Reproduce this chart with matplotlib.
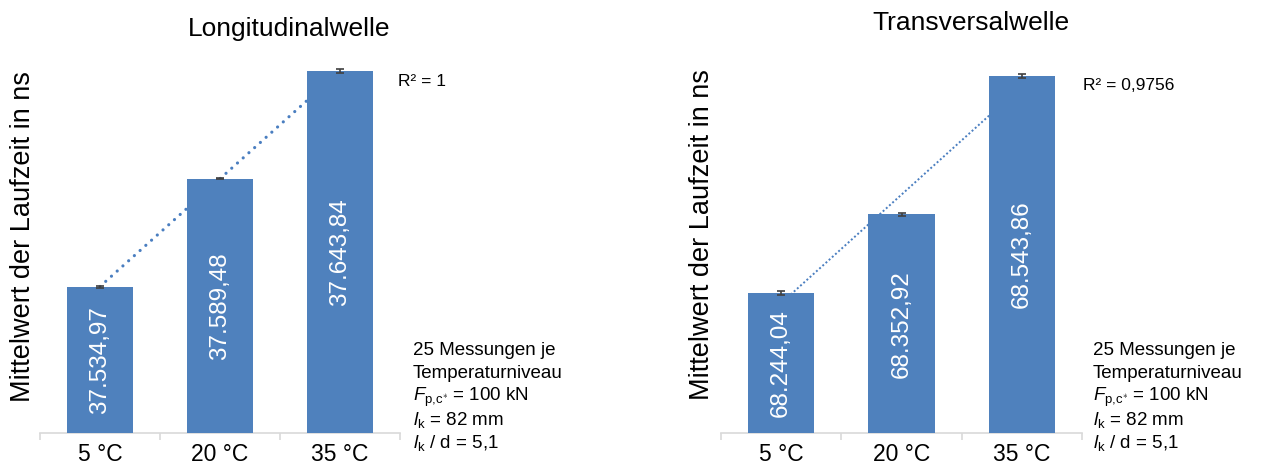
import numpy as np
import matplotlib
matplotlib.use("Agg")
import matplotlib.pyplot as plt

plt.rcParams["font.family"] = ["Liberation Sans", "DejaVu Sans"]
plt.rcParams["mathtext.fontset"] = "custom"
plt.rcParams["mathtext.rm"] = "Liberation Sans"
plt.rcParams["mathtext.it"] = "Liberation Sans:italic"

# --- data -------------------------------------------------------------
categories = ["5 °C", "20 °C", "35 °C"]

long_title = "Longitudinalwelle"
long_means = [37534.97, 37589.48, 37643.84]
long_err = [0.5, 0.3, 0.8]
long_labels = ["37.534,97", "37.589,48", "37.643,84"]
long_r2 = "R² = 1"

trans_title = "Transversalwelle"
trans_means = [68244.04, 68352.92, 68543.86]
trans_err = [2.8, 2.3, 3.0]
trans_labels = ["68.244,04", "68.352,92", "68.543,86"]
trans_r2 = "R² = 0,9756"

ylabel = "Mittelwert der Laufzeit in ns"
notes = ["25 Messungen je",
         "Temperaturniveau",
         r"$F_{\mathrm{p{,}c}^{\ast}}$ = 100 kN",
         r"$l_{\mathrm{k}}$ = 82 mm",
         r"$l_{\mathrm{k}}$ / d = 5,1"]

BAR = "#4F81BD"
TREND = "#4A7EC0"
AXIS = "#D9D9D9"
ERR = "#404040"

W, H = 1265, 471
fig = plt.figure(figsize=(W / 100, H / 100), dpi=100)


def px(x, y):
    return x / W, 1 - y / H


def panel(left_px, right_px, ylim, means, err, labels, r2, r2_xy, title, title_xy,
          ylabel_xy, notes_x, trend_style):
    l, b = px(left_px, 433)
    _, t = px(0, 37)
    ax = fig.add_axes([l, b, (right_px - left_px) / W, t - b])
    x = np.arange(len(means))
    ax.bar(x, np.array(means) - ylim[0], bottom=ylim[0], width=0.55, color=BAR,
           zorder=3)
    ax.errorbar(x, means, yerr=err, fmt="none", ecolor=ERR, elinewidth=1.2,
                capsize=3.2, capthick=1.2, zorder=4)
    # linear trend line
    k, d = np.polyfit(x, means, 1)
    xt = np.linspace(0, len(means) - 1, 50)
    ax.plot(xt, k * xt + d, color=TREND, zorder=2, **trend_style)
    # value labels centred in the visible bar
    for xi, m, lab in zip(x, means, labels):
        ax.text(xi, (m + ylim[0]) / 2, lab, rotation=90, ha="center",
                va="center", color="white", fontsize=17.5, zorder=5)
    ax.set_xlim(-0.5, len(means) - 0.5)
    ax.set_ylim(*ylim)
    for s in ("left", "right", "top"):
        ax.spines[s].set_visible(False)
    ax.spines["bottom"].set_color(AXIS)
    ax.spines["bottom"].set_linewidth(1.2)
    ax.set_yticks([])
    ax.set_xticks(x)
    ax.set_xticklabels(categories, fontsize=16.5)
    ax.set_xticks(np.arange(-0.5, len(means)), minor=True)
    ax.tick_params(axis="x", which="major", length=0, pad=7)
    ax.tick_params(axis="x", which="minor", length=5, width=1.2, color=AXIS,
                   direction="out")
    fig.text(*px(*r2_xy), r2, fontsize=12.5, ha="left", va="center")
    fig.text(*px(*title_xy), title, fontsize=19, ha="center", va="center")
    fig.text(*px(*ylabel_xy), ylabel, fontsize=19.5, rotation=90,
             ha="center", va="center")
    for i, line in enumerate(notes):
        fig.text(*px(notes_x, 355 + 23.2 * i), line, fontsize=13.5,
                 ha="left", va="baseline")
    return ax


panel(40, 400, (37461, 37661), long_means, long_err, long_labels, long_r2,
      (398, 82), long_title, (289, 29), (23, 237), 413,
      dict(linestyle=(0, (0.01, 2.4)), linewidth=2.3, dash_capstyle="round"))

panel(721, 1082, (68051, 68598), trans_means, trans_err, trans_labels, trans_r2,
      (1083, 85), trans_title, (971, 23), (702, 235), 1093,
      dict(linestyle=(0, (1, 1.2)), linewidth=1.4))

fig.savefig("out.png", dpi=100)
